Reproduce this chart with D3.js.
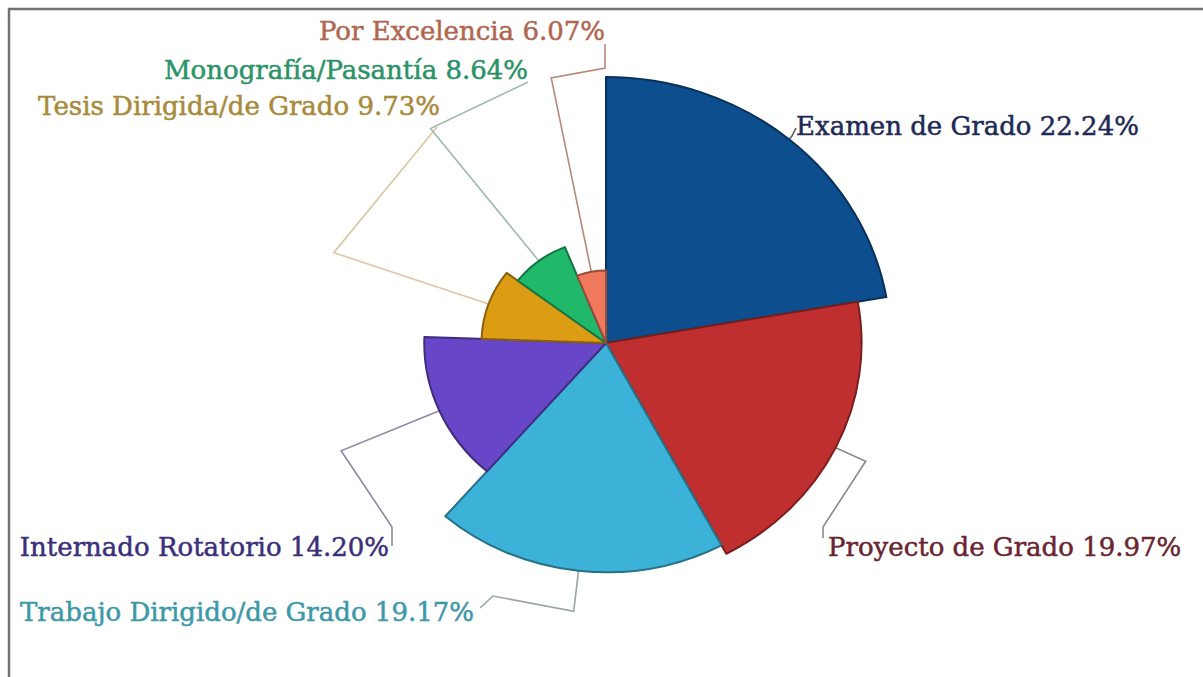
<!DOCTYPE html>
<html>
<head>
<meta charset="utf-8">
<script src="https://cdn.jsdelivr.net/npm/d3@7"></script>
<style>
  body { margin: 0; background: #fff; }
  #rose-chart { width: 1203px; height: 677px; }
  .slice-label { font-family: "DejaVu Serif", serif; font-size: 26px; stroke-width: 0.5px; }
</style>
</head>
<body>
<div id="rose-chart"></div>
<script>
// categories and values (percent of titled students)
var categories = ["Examen de Grado", "Proyecto de Grado", "Trabajo Dirigido/de Grado",
    "Internado Rotatorio", "Tesis Dirigida/de Grado", "Monografía/Pasantía", "Por Excelencia"];
var percents = [22.24, 19.97, 19.17, 14.20, 9.73, 8.64, 6.07];

var sliceColors = ["#0d4e8e", "#c02f30", "#3cb2d8", "#6747c8", "#dc9c14", "#20b96a", "#f0785c"];
var labelColors = ["#1e2a55", "#6a2430", "#3d98a8", "#3a2f7a", "#a88a3a", "#2b9268", "#b06650"];
var lineColors = ["#555b66", "#8a8a8a", "#9aa4a8", "#8c8aa6", "#dcc6a4", "#9fbcab", "#b8877c"];

/**
 * Constructor for the RoseChart
 */
function RoseChart() {
    var self = this;
    self.init();
};

/**
 * Sets up svg, scales, slices, leader lines and labels
 */
RoseChart.prototype.init = function () {
    var self = this;
    self.width = 1203;
    self.height = 677;
    self.cx = 606;
    self.cy = 343;
    self.stretch = 1.07;    // picture is a bit wider than tall
    self.elbowRadius = 270;

    self.svg = d3.select("#rose-chart").append("svg")
        .attr("width", self.width)
        .attr("height", self.height);

    // frame on top and left
    self.svg.append("path")
        .attr("d", "M9," + self.height + "V9H" + self.width)
        .attr("fill", "none")
        .attr("stroke", "#6e7378")
        .attr("stroke-width", 2.5);

    var data = categories.map(function (c, i) {
        return {name: c, value: percents[i], index: i};
    });

    self.rScale = d3.scaleLinear()
        .domain([0, d3.max(percents)])
        .range([0, 266]);

    var pie = d3.pie()
        .sort(null)
        .value(function (d) { return d.value; });
    self.arcs = pie(data);

    var arc = d3.arc()
        .innerRadius(0)
        .outerRadius(function (d) { return self.rScale(d.data.value); });

    // where every label ends up; the leader line finishes on the last point
    self.labelLayout = [
        {x: 796, y: 135, anchor: "start", tail: [[796, 128]]},
        {x: 828, y: 556, anchor: "start", tail: [[823, 527], [823, 538]]},
        {x: 474, y: 621, anchor: "end", tail: [[493, 596], [480, 608]]},
        {x: 389, y: 556, anchor: "end", tail: [[392, 527], [392, 546]]},
        {x: 440, y: 115, anchor: "end", tail: [[437, 127]]},
        {x: 528, y: 79, anchor: "end", tail: [[528, 82]]},
        {x: 605, y: 40, anchor: "end", tail: [[605, 68], [605, 44]]}
    ];

    // leader lines
    self.svg.append("g").attr("id", "leaders")
        .selectAll("path")
        .data(self.arcs)
        .enter().append("path")
        .attr("fill", "none")
        .attr("stroke", function (d) { return lineColors[d.index]; })
        .attr("stroke-width", 1.6)
        .attr("d", function (d) {
            var mid = (d.startAngle + d.endAngle) / 2;
            var pts = [self.polar(self.rScale(d.data.value), mid), self.polar(self.elbowRadius, mid)];
            return d3.line()(pts.concat(self.labelLayout[d.index].tail));
        });

    // slices
    self.svg.append("g").attr("id", "slices")
        .attr("transform", "translate(" + self.cx + "," + self.cy + ") scale(" + self.stretch + ",1)")
        .selectAll("path")
        .data(self.arcs)
        .enter().append("path")
        .attr("d", arc)
        .attr("fill", function (d) { return sliceColors[d.index]; })
        .attr("stroke", function (d) { return d3.color(sliceColors[d.index]).darker(1.3); })
        .attr("stroke-width", 2)
        .attr("stroke-linejoin", "round")
        .attr("vector-effect", "non-scaling-stroke");

    // labels
    self.svg.append("g").attr("id", "labels")
        .selectAll("text")
        .data(self.arcs)
        .enter().append("text")
        .classed("slice-label", true)
        .attr("x", function (d) { return self.labelLayout[d.index].x; })
        .attr("y", function (d) { return self.labelLayout[d.index].y; })
        .attr("text-anchor", function (d) { return self.labelLayout[d.index].anchor; })
        .attr("fill", function (d) { return labelColors[d.index]; })
        .attr("stroke", function (d) { return labelColors[d.index]; })
        .text(function (d) { return d.data.name + " " + d3.format(".2f")(d.data.value) + "%"; });
};

/**
 * Screen point for a radius and an angle (0 at twelve o'clock, clockwise)
 */
RoseChart.prototype.polar = function (r, a) {
    var self = this;
    return [self.cx + self.stretch * r * Math.sin(a), self.cy - r * Math.cos(a)];
};

var chart = new RoseChart();
</script>
</body>
</html>
